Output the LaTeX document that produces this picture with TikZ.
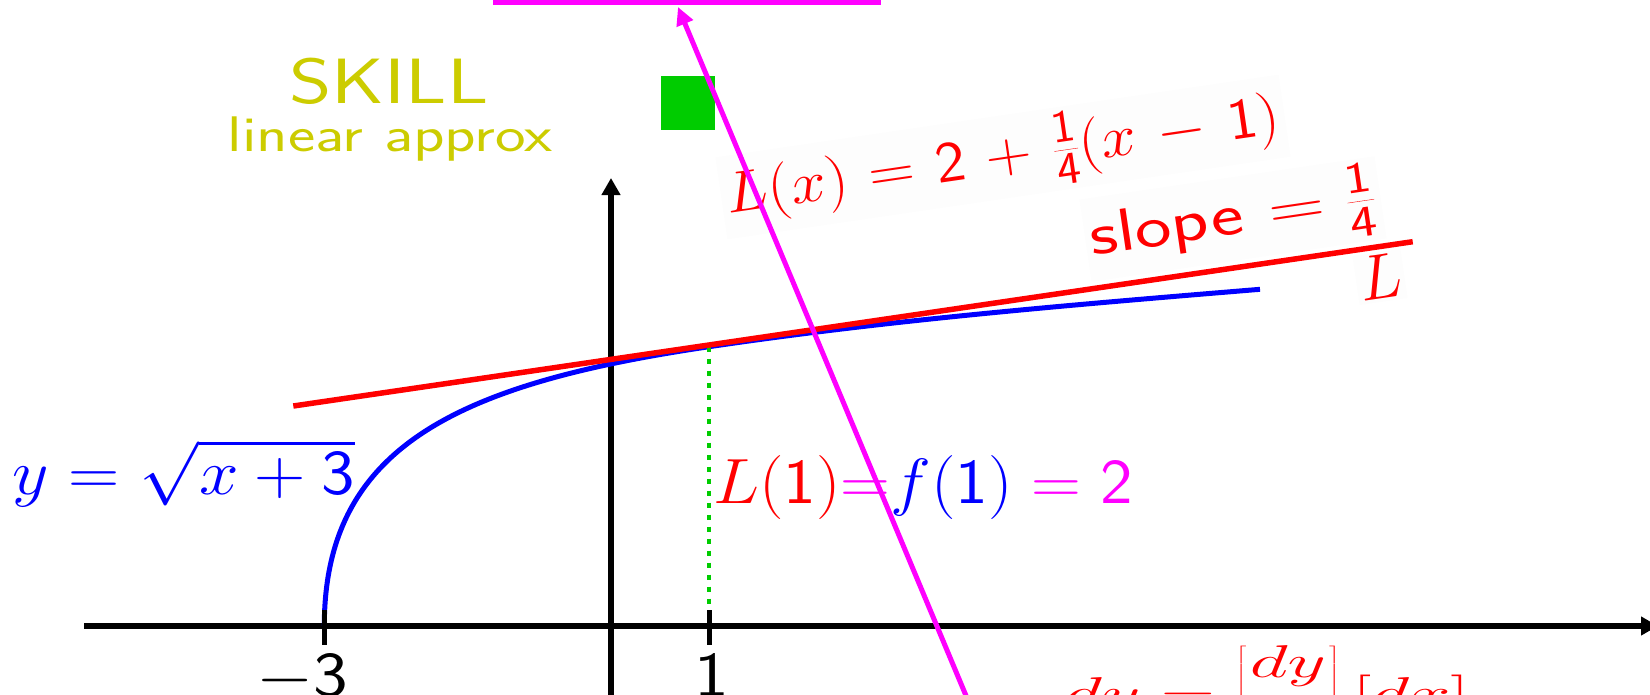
\RequirePackage{fix-cm}
\documentclass[tikz,border=0pt]{standalone}
\usetikzlibrary{arrows.meta}
\DeclareSymbolFont{numbers}{OT1}{cmss}{m}{n}
\DeclareMathSymbol{0}{\mathalpha}{numbers}{"30}
\DeclareMathSymbol{1}{\mathalpha}{numbers}{"31}
\DeclareMathSymbol{2}{\mathalpha}{numbers}{"32}
\DeclareMathSymbol{3}{\mathalpha}{numbers}{"33}
\DeclareMathSymbol{4}{\mathalpha}{numbers}{"34}
\DeclareMathSymbol{5}{\mathalpha}{numbers}{"35}
\DeclareMathSymbol{6}{\mathalpha}{numbers}{"36}
\DeclareMathSymbol{7}{\mathalpha}{numbers}{"37}
\DeclareMathSymbol{8}{\mathalpha}{numbers}{"38}
\DeclareMathSymbol{9}{\mathalpha}{numbers}{"39}
\DeclareMathSizes{58}{58}{46}{36}
\DeclareMathSizes{60}{60}{44}{36}
\definecolor{skill}{RGB}{204,204,0}
\definecolor{sqgreen}{RGB}{0,204,0}
\definecolor{boxbg}{RGB}{253,253,253}
\definecolor{mag}{RGB}{255,0,255}
\definecolor{pureblue}{RGB}{0,0,255}
\definecolor{purered}{RGB}{255,0,0}
\begin{document}
\begin{tikzpicture}[x=1pt,y=-1pt,
  axisline/.style={line width=5.5pt, black},
  tickline/.style={line width=5pt, black},
  axtip/.style={-{Triangle[length=17pt,width=18pt]}},
  mathlbl/.style={inner sep=0pt, font=\fontsize{64}{70}\selectfont},
  tiltbox/.style={fill=boxbg, inner sep=5pt, rotate=8.35},
  skilltext/.style={inner sep=0pt, text=skill, anchor=base},
]
\useasboundingbox (0,0) rectangle (1650,694);
\clip (0,0) rectangle (1650,694);

% axes
\coordinate (xs) at (84,626);
\coordinate (xe) at (1658,626);
\coordinate (ys) at (611,700);
\coordinate (ye) at (611,178);
\draw[axisline, axtip] (xs) -- (xe);
\draw[axisline, axtip] (ys) -- (ye);

% blue curve
\coordinate (c0) at (324.3,626);
\coordinate (c1) at (324.3,446);
\coordinate (c2) at (459,383.6);
\coordinate (c3) at (709,346.7);
\coordinate (c4) at (893,319.5);
\coordinate (c5) at (1076,304.5);
\coordinate (c6) at (1260,289.3);
\draw[pureblue, line width=5pt] (c0) .. controls (c1) and (c2) .. (c3)
  .. controls (c4) and (c5) .. (c6);

% ticks
\coordinate (tka) at (324.3,610);
\coordinate (tkb) at (324.3,645);
\coordinate (tkc) at (709,610);
\coordinate (tkd) at (709,645);
\draw[tickline] (tka) -- (tkb);
\draw[tickline] (tkc) -- (tkd);

% green dotted
\coordinate (ga) at (709,346.7);
\coordinate (gb) at (709,610);
\draw[sqgreen, line width=4.5pt, dash pattern=on 5pt off 7pt] (ga) -- (gb);

% tick labels
\node[mathlbl, anchor=north] (tm3) at (302,654) {\scalebox{1.15}[1]{$-3$}};
\node[mathlbl, anchor=north] (t1) at (712,654) {\scalebox{1.15}[1]{$1$}};

% skill title
\node[skilltext, font=\sffamily\fontsize{64}{70}\selectfont] (skill) at (389,103) {\scalebox{1.27}[1]{SKILL}};
\node[skilltext, font=\sffamily\fontsize{50}{58}\selectfont] (approx) at (390,151) {\scalebox{1.3}[1]{linear approx}};

% labels
\node[mathlbl, text=pureblue, anchor=base west] (ylab) at (12.6,494.6) {\scalebox{1.11}[1]{$y=\sqrt{x+3}$}};
\node[mathlbl, anchor=base west] (val) at (713,503)
  {\scalebox{1.08}[1]{$\textcolor{purered}{L(1)}\textcolor{mag}{=}\textcolor{pureblue}{f(1)}\mathrel{\textcolor{mag}{=}}\textcolor{mag}{2}$}};
\node[mathlbl, text=purered, tiltbox, font=\fontsize{58}{64}\selectfont] (Lx) at (1003,157)
  {\scalebox{1.1}[1]{\medmuskip=6mu\thickmuskip=6mu$L(x)=2+\frac{1}{4}(x-1)$}};
\node[mathlbl, text=purered, tiltbox, font=\fontsize{60}{66}\selectfont] (slope) at (1233,219)
  {\scalebox{1.3}[1]{\sffamily slope\hspace{20pt}$=\frac{1}{4}$}};
\node[mathlbl, text=purered, tiltbox, inner sep=3pt] (Llab) at (1380,277) {$L$};
\node[text=purered, anchor=base west, inner sep=0pt, font=\fontsize{46}{52}\selectfont] (dy) at (1064,709)
  {\scalebox{1.62}[1]{$\displaystyle dy=\left[\frac{dy}{dx}\right][dx]$}};

% red tangent line
\coordinate (ra) at (293.3,406);
\coordinate (rb) at (1412.7,241.7);
\draw[purered, line width=5.5pt] (ra) -- (rb);

% green square
\node[fill=sqgreen, minimum size=54pt, inner sep=0pt] (sq) at (688,103) {};

% magenta
\coordinate (ta) at (493,2);
\coordinate (tb) at (881,2);
\draw[mag, line width=5pt] (ta) -- (tb);
\coordinate (ma) at (972,710);
\coordinate (mb) at (678,7);
\draw[mag, line width=5pt, -{Triangle[length=18pt,width=17pt]}] (ma) -- (mb);
\end{tikzpicture}
\end{document}
